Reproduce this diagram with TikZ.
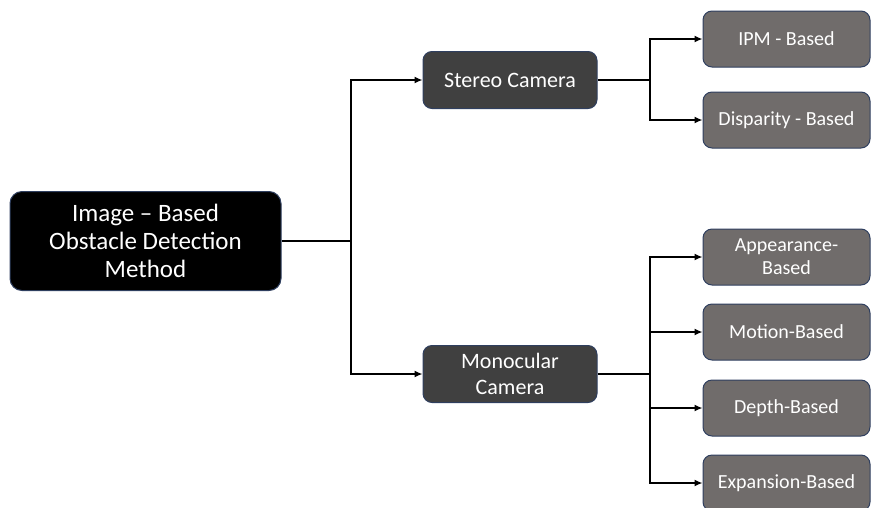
\documentclass[tikz,border=0pt]{standalone}
\usepackage{fontspec}
\setmainfont{Carlito}
\usetikzlibrary{arrows.meta}
\definecolor{bordc}{HTML}{2F3F5F}
\definecolor{midc}{HTML}{404040}
\definecolor{leafc}{HTML}{706C6B}
\begin{document}
\begin{tikzpicture}[x=1pt,y=-1pt,
  rootbox/.style={draw=bordc,line width=1pt,fill=black,rounded corners=12pt,text=white,minimum width=271pt,minimum height=99pt,align=center,font=\fontsize{25}{28}\selectfont,inner sep=0pt},
  midbox/.style={draw=bordc,line width=1pt,fill=midc,rounded corners=9pt,text=white,minimum width=174pt,minimum height=57pt,align=center,font=\fontsize{22}{26}\selectfont,inner sep=0pt},
  leafbox/.style={draw=bordc,line width=1pt,fill=leafc,rounded corners=9pt,text=white,minimum width=167pt,minimum height=56pt,align=center,font=\fontsize{20}{23}\selectfont,inner sep=0pt},
  conn/.style={line width=1.4pt,-{Latex[length=8pt,width=7pt]}},
  seg/.style={line width=1.4pt}]
\useasboundingbox (0,0) rectangle (871,507);
\node[rootbox] (root) at (145.5,241) {Image – Based\\Obstacle Detection\\Method};
\node[midbox] (stereo) at (510,80) {Stereo Camera};
\node[midbox] (mono) at (510,374) {Monocular\\Camera};
\node[leafbox] (ipm) at (786.5,39) {IPM - Based};
\node[leafbox] (disp) at (786.5,120) {Disparity - Based};
\node[leafbox] (app) at (786.5,257) {Appearance-\\Based};
\node[leafbox] (mot) at (786.5,332) {Motion-Based};
\node[leafbox] (dep) at (786.5,408) {Depth-Based};
\node[leafbox] (exp) at (786.5,483) {Expansion-Based};
\coordinate (j0) at (351,241);
\coordinate (j1) at (650,80);
\coordinate (j2) at (650,374);
\draw[seg] (root.east) -- (j0);
\draw[conn] (j0) |- (stereo.west);
\draw[conn] (j0) |- (mono.west);
\draw[seg] (stereo.east) -- (j1);
\draw[conn] (j1) |- (ipm.west);
\draw[conn] (j1) |- (disp.west);
\draw[seg] (mono.east) -- (j2);
\draw[conn] (j2) |- (app.west);
\draw[conn] (j2) |- (mot.west);
\draw[conn] (j2) |- (dep.west);
\draw[conn] (j2) |- (exp.west);
\end{tikzpicture}
\end{document}
